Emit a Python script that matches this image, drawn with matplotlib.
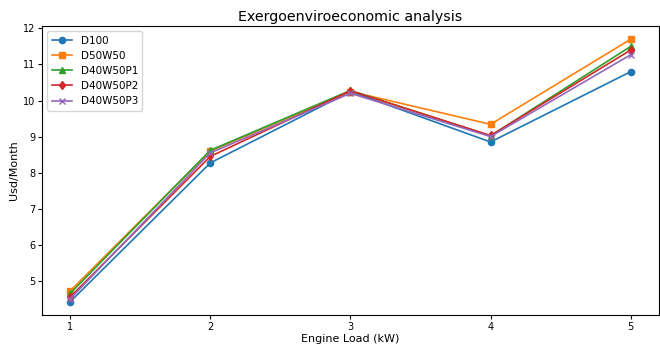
import matplotlib
matplotlib.use("Agg")
import matplotlib.pyplot as plt

loads = [1, 2, 3, 4, 5]
d100 = [4.42, 8.27, 10.25, 8.85, 10.80]
d50w50 = [4.72, 8.60, 10.25, 9.34, 11.70]
d40w50p1 = [4.65, 8.62, 10.28, 9.02, 11.50]
d40w50p2 = [4.55, 8.45, 10.27, 9.03, 11.40]
d40w50p3 = [4.50, 8.55, 10.20, 9.00, 11.27]
series = [("D100", d100, "o"), ("D50W50", d50w50, "s"), ("D40W50P1", d40w50p1, "^"),
          ("D40W50P2", d40w50p2, "d"), ("D40W50P3", d40w50p3, "x")]

fig = plt.figure(figsize=(6.6, 3.44), dpi=100)
ax = fig.add_axes([0.064, 0.085, 0.934, 0.839])
for name, vals, m in series:
    ax.plot(loads, vals, marker=m, markersize=4.5, linewidth=1.2, label=name)
ax.set_xticks(loads)
ax.set_title("Exergoenviroeconomic analysis", fontsize=10.3, pad=4)
ax.set_xlabel("Engine Load (kW)", fontsize=8, labelpad=2)
ax.set_ylabel("Usd/Month", fontsize=8, labelpad=3)
ax.tick_params(labelsize=7, pad=2, length=3)
ax.legend(loc="upper left", fontsize=7.5)
fig.savefig("out.png", dpi=100)
